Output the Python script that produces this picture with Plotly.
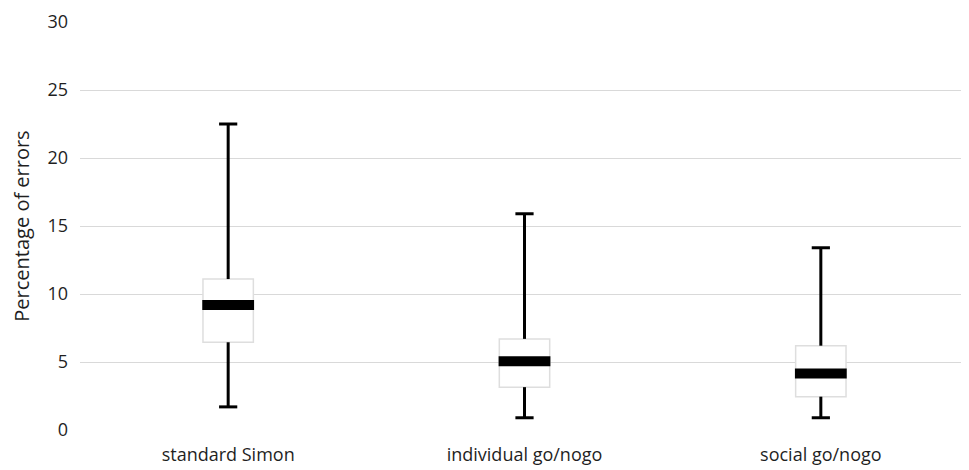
import plotly.graph_objects as go

categories = ["standard Simon", "individual go/nogo", "social go/nogo"]
minimum = [1.7, 0.9, 0.9]
q1 = [6.45, 3.15, 2.45]
median = [9.2, 5.05, 4.15]
q3 = [11.1, 6.7, 6.2]
maximum = [22.5, 15.9, 13.4]
y_ticks = [0, 5, 10, 15, 20, 25, 30]

FONT = "'Open Sans', Lato, sans-serif"
TXT = "#1f1f1f"

fig = go.Figure()

# boxes (no whiskers; whiskers drawn separately in black)
fig.add_trace(go.Box(
    x=categories, q1=q1, median=median, q3=q3,
    lowerfence=q1, upperfence=q3,
    width=0.17, fillcolor="white",
    line=dict(color="#dedede", width=1.5),
    boxpoints=False, hoverinfo="skip", showlegend=False,
))

# whiskers
wx, wy = [], []
for c, lo, a, b, hi in zip(categories, minimum, q1, q3, maximum):
    wx += [c, c, None, c, c, None]
    wy += [b, hi, None, a, lo, None]
fig.add_trace(go.Scatter(
    x=wx, y=wy, mode="lines", line=dict(color="black", width=3),
    hoverinfo="skip", showlegend=False,
))

# caps
fig.add_trace(go.Scatter(
    x=categories + categories, y=maximum + minimum, mode="markers",
    marker=dict(symbol="line-ew", size=13, line=dict(color="black", width=3)),
    hoverinfo="skip", showlegend=False,
))

# medians
fig.add_trace(go.Scatter(
    x=categories, y=median, mode="markers",
    marker=dict(symbol="line-ew", size=37, line=dict(color="black", width=10)),
    hoverinfo="skip", showlegend=False,
))

fig.update_layout(
    width=961, height=462,
    margin=dict(l=72, r=0, t=14, b=40),
    paper_bgcolor="white", plot_bgcolor="white",
    font=dict(family=FONT, color=TXT, size=16),
    showlegend=False,
)
fig.update_xaxes(
    type="category", range=[-0.5, 2.5], showgrid=False, showline=False,
    ticks="", tickfont=dict(size=18, color=TXT, family=FONT), ticklabelstandoff=12,
)
fig.update_yaxes(
    range=[0, 30], tickvals=y_ticks, showgrid=True, gridcolor="#d9d9d9",
    gridwidth=1, zeroline=False, showline=False, ticks="",
    tickfont=dict(size=18, color=TXT, family=FONT), ticklabelstandoff=11,
    title=dict(text="Percentage of errors", font=dict(size=20, color=TXT, family=FONT), standoff=13),
)

fig.write_html("out.html")
